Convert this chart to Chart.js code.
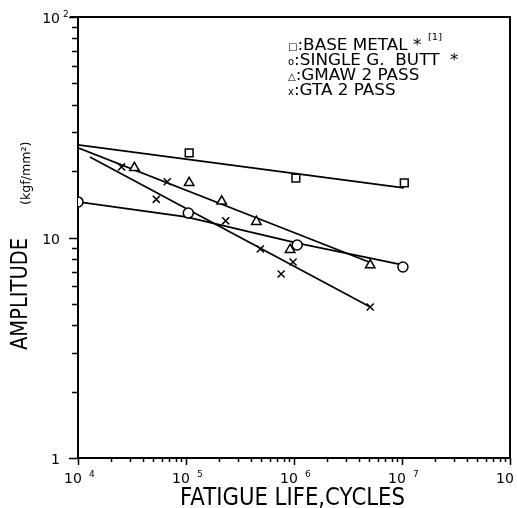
<!DOCTYPE html>
<html>
<head>
<meta charset="utf-8">
<script src="https://cdn.jsdelivr.net/npm/chart.js@4"></script>
<style>
  html, body { margin: 0; padding: 0; background: #fff; }
  #wrap { width: 517px; height: 508px; position: relative; }
</style>
</head>
<body>
<div id="wrap"><canvas id="fatigueChart"></canvas></div>
<script>
// fatigue life (cycles) vs amplitude (kgf/mm2)
const baseLife = [1.07e5, 1.04e6, 1.05e7];
const baseAmp = [24.2, 18.6, 17.7];
const baseFitLife = [1e4, 1.04e7];
const baseFitAmp = [26.3, 16.8];

const buttLife = [1e4, 1.05e5, 1.07e6, 1.02e7];
const buttAmp = [14.5, 12.9, 9.25, 7.35];
const buttFitLife = [1e4, 1e5, 1.1e6, 1.04e7];
const buttFitAmp = [14.5, 12.4, 9.4, 7.5];

const gmawLife = [3.33e4, 1.07e5, 2.14e5, 4.48e5, 9.2e5, 5.08e6];
const gmawAmp = [20.7, 17.7, 14.6, 11.8, 8.8, 7.5];
const gmawFitLife = [1e4, 5.08e6];
const gmawFitAmp = [25.5, 7.7];

const gtaLife = [2.53e4, 5.31e4, 6.7e4, 2.33e5, 4.88e5, 7.6e5, 9.8e5, 5.08e6];
const gtaAmp = [20.9, 14.9, 17.9, 11.9, 8.87, 6.83, 7.74, 4.84];
const gtaFitLife = [1.29e4, 5.08e6];
const gtaFitAmp = [23.2, 4.84];

// tick labels: mantissa + exponent (exponent '' = none)
const xTickValues = [1e4, 1e5, 1e6, 1e7, 1e8];
const xTickBase = ['10', '10', '10', '10', '10'];
const xTickExp = ['4', '5', '6', '7', '8'];
const yTickValues = [1, 10, 100];
const yTickBase = ['1', '10', '10'];
const yTickExp = ['', '', '2'];

const legendSymbols = ['\u25a1', 'o', '\u25b3', 'x'];
const legendTexts = [':BASE METAL *', ':SINGLE G.  BUTT  *', ':GMAW 2 PASS', ':GTA 2 PASS'];

const FONT = '"DejaVu Sans", sans-serif';

function pts(xs, ys) {
    return xs.map((x, i) => ({ x: x, y: ys[i] }));
}

function markers(xs, ys, style, r) {
    return {
        data: pts(xs, ys),
        showLine: false,
        pointStyle: style,
        pointRadius: r,
        pointBorderColor: '#000',
        pointBackgroundColor: '#fff',
        pointBorderWidth: 1.5
    };
}

function fitLine(xs, ys) {
    return {
        data: pts(xs, ys),
        showLine: true,
        borderColor: '#000',
        borderWidth: 1.7,
        pointRadius: 0,
        tension: 0
    };
}

// log ticks 1..9 in every decade between min and max
function decadeTicks(scale) {
    const ticks = [];
    const lo = Math.round(Math.log10(scale.min));
    const hi = Math.round(Math.log10(scale.max));
    for (let e = lo; e <= hi; e++) {
        for (let m = 1; m <= 9; m++) {
            const v = m * Math.pow(10, e);
            if (v <= scale.max * 1.0001) ticks.push({ value: v, major: m === 1 });
        }
    }
    scale.ticks = ticks;
}

// squeezed text, the original uses a narrow plotter font
function drawText(ctx, text, x, y, font, sx) {
    ctx.save();
    ctx.font = font;
    ctx.translate(x, y);
    ctx.scale(sx, 1);
    ctx.fillText(text, 0, 0);
    ctx.restore();
}

const decorPlugin = {
    id: 'decor',
    afterDraw(chart) {
        const ctx = chart.ctx;
        const a = chart.chartArea;
        const xs = chart.scales.x;
        const ys = chart.scales.y;
        ctx.save();
        ctx.strokeStyle = '#000';
        ctx.lineWidth = 2;
        ctx.beginPath();
        ctx.moveTo(a.left - 8, a.top);
        ctx.lineTo(a.right, a.top);
        ctx.lineTo(a.right, a.bottom);
        ctx.stroke();

        // tick marks, longer at the decades
        ctx.lineWidth = 1.5;
        ctx.beginPath();
        xs.ticks.forEach(t => {
            const px = Math.round(xs.getPixelForValue(t.value)) + 0.5;
            ctx.moveTo(px, a.bottom);
            ctx.lineTo(px, a.bottom + (t.major ? 7 : 4));
        });
        ys.ticks.forEach(t => {
            const py = Math.round(ys.getPixelForValue(t.value)) + 0.5;
            ctx.moveTo(a.left, py);
            ctx.lineTo(a.left - (t.major ? 9 : 6), py);
        });
        ctx.stroke();

        ctx.fillStyle = '#000';
        ctx.textBaseline = 'alphabetic';

        // tick labels
        xTickValues.forEach((v, i) => {
            const px = xs.getPixelForValue(v);
            ctx.font = '14px ' + FONT;
            ctx.textAlign = 'center';
            ctx.fillText(xTickBase[i], px - 5, 483);
            ctx.font = '9px ' + FONT;
            ctx.textAlign = 'left';
            ctx.fillText(xTickExp[i], px + 11, 477);
        });
        yTickValues.forEach((v, i) => {
            const py = ys.getPixelForValue(v);
            ctx.font = '14px ' + FONT;
            ctx.textAlign = 'right';
            ctx.fillText(yTickBase[i], 60, py + 6);
            if (yTickExp[i]) {
                ctx.font = '9px ' + FONT;
                ctx.textAlign = 'left';
                ctx.fillText(yTickExp[i], 63, py);
            }
        });

        // legend
        ctx.textAlign = 'left';
        for (let i = 0; i < legendTexts.length; i++) {
            const y = 50 + i * 15;
            ctx.font = '10px ' + FONT;
            ctx.fillText(legendSymbols[i], 288, y);
            const w = ctx.measureText(legendSymbols[i]).width;
            drawText(ctx, legendTexts[i], 288 + w, y, '15px ' + FONT, 1.12);
        }
        drawText(ctx, '[1]', 428, 40, '9px ' + FONT, 1.1);

        // x title
        ctx.font = '25px ' + FONT;
        const xt = 'FATIGUE LIFE,CYCLES';
        const sx = 225 / ctx.measureText(xt).width;
        drawText(ctx, xt, 180, 505, '25px ' + FONT, sx);

        // y title
        ctx.save();
        ctx.translate(27, 350);
        ctx.rotate(-Math.PI / 2);
        ctx.font = '23px ' + FONT;
        const yt = 'AMPLITUDE';
        const sy = 112 / ctx.measureText(yt).width;
        drawText(ctx, yt, 0, 0, '23px ' + FONT, sy);
        drawText(ctx, '(kgf/mm\u00b2)', 145, 3, '12px ' + FONT, 1.05);
        ctx.restore();
        ctx.restore();
    }
};

function createFatigueChart() {
    const ctx = document.getElementById('fatigueChart');
    if (!ctx) return;
    new Chart(ctx, {
        type: 'scatter',
        data: {
            datasets: [
                markers(baseLife, baseAmp, 'rect', 5.5),
                markers(buttLife, buttAmp, 'circle', 5),
                markers(gmawLife, gmawAmp, 'triangle', 5.5),
                markers(gtaLife, gtaAmp, 'crossRot', 5),
                fitLine(baseFitLife, baseFitAmp),
                fitLine(buttFitLife, buttFitAmp),
                fitLine(gmawFitLife, gmawFitAmp),
                fitLine(gtaFitLife, gtaFitAmp)
            ]
        },
        options: {
            responsive: true,
            maintainAspectRatio: false,
            animation: false,
            layout: { padding: { top: 17, right: -6, left: 0, bottom: 0 } },
            plugins: {
                legend: { display: false },
                tooltip: { enabled: false }
            },
            scales: {
                x: {
                    type: 'logarithmic',
                    min: 1e4,
                    max: 1e8,
                    border: { display: true, color: '#000', width: 2 },
                    grid: { drawOnChartArea: false, drawTicks: false },
                    ticks: { display: false, autoSkip: false },
                    afterBuildTicks: decadeTicks,
                    afterFit(scale) {
                        scale.height = 50;
                        scale.paddingLeft = 0;
                        scale.paddingRight = 0;
                    }
                },
                y: {
                    type: 'logarithmic',
                    min: 1,
                    max: 100,
                    border: { display: true, color: '#000', width: 2 },
                    grid: { drawOnChartArea: false, drawTicks: false },
                    ticks: { display: false, autoSkip: false },
                    afterBuildTicks: decadeTicks,
                    afterFit(scale) {
                        scale.width = 78;
                        scale.paddingTop = 0;
                        scale.paddingBottom = 0;
                    }
                }
            }
        },
        plugins: [decorPlugin]
    });
}

document.addEventListener('DOMContentLoaded', () => {
    createFatigueChart();
});
</script>
</body>
</html>
